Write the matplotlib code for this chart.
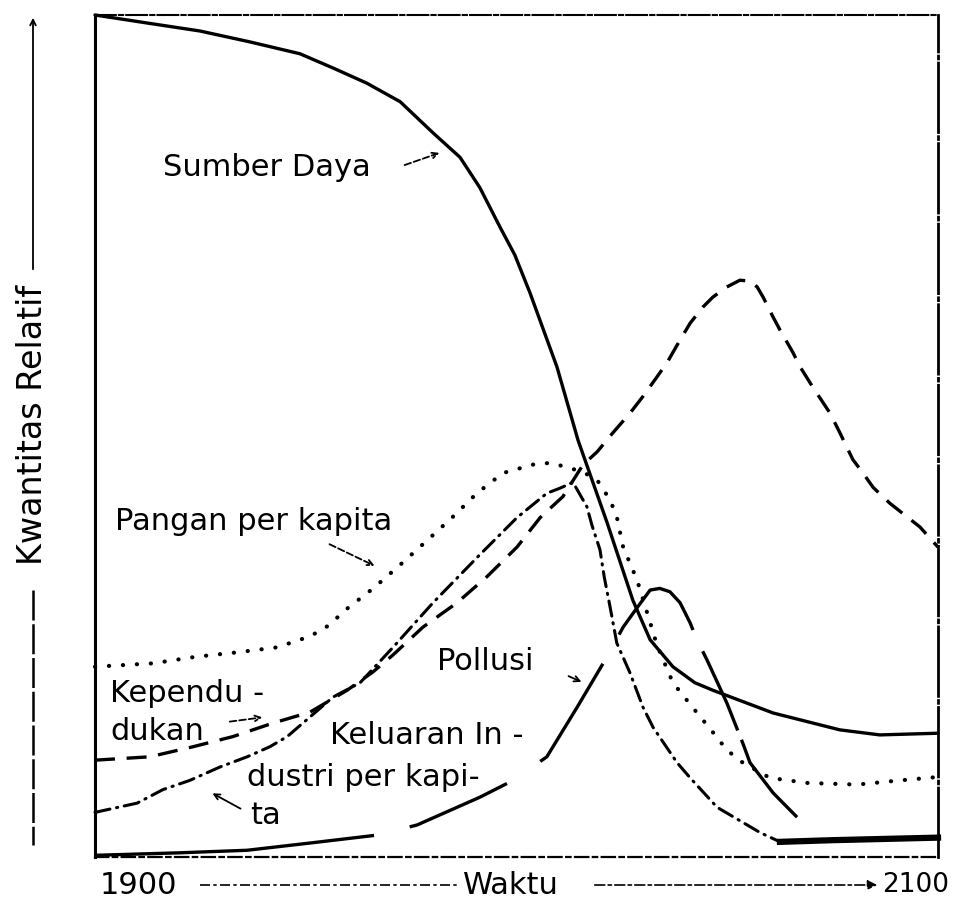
import matplotlib
matplotlib.use("Agg")
import matplotlib.pyplot as plt

W, H = 954, 914

# values: x in years (1900 -> 2100), y as relative quantity (0 -> 1)
res_year = [1900, 1913.0, 1924.9, 1936.8, 1948.6, 1956.5, 1964.5, 1972.4, 1980.2, 1986.6,
            1991.3, 1996.1, 1999.6, 2003.2, 2009.6, 2014.6, 2021.5, 2027.6, 2031.7, 2037.1,
            2042.3, 2046.6, 2060.9, 2076.7, 2086.2, 2100]
res_val = [1.000, 0.990, 0.981, 0.968, 0.954, 0.937, 0.919, 0.897, 0.860, 0.831,
           0.795, 0.748, 0.715, 0.670, 0.582, 0.495, 0.397, 0.305, 0.258, 0.226,
           0.207, 0.198, 0.171, 0.151, 0.145, 0.147]

pop_year = [1900, 1913.0, 1923.3, 1932.7, 1942.2, 1951.0, 1959.8, 1966.0, 1970.7, 1977.8,
            1985.9, 1993.0, 2000.1, 2005.6, 2011.0, 2015.8, 2019.1, 2022.9, 2026.9, 2030.0,
            2033.3, 2035.7, 2038.8, 2041.2, 2044.2, 2046.6, 2049.9, 2053.0, 2055.4, 2057.1,
            2058.5, 2060.9, 2062.5, 2065.6, 2067.3, 2070.3, 2074.4, 2076.7, 2079.8, 2082.2,
            2084.6, 2088.6, 2095.7, 2100]
pop_val = [0.115, 0.119, 0.131, 0.143, 0.159, 0.172, 0.198, 0.220, 0.240, 0.273,
           0.302, 0.333, 0.368, 0.403, 0.428, 0.466, 0.481, 0.504, 0.527, 0.547,
           0.570, 0.587, 0.614, 0.634, 0.653, 0.665, 0.677, 0.685, 0.684, 0.677,
           0.665, 0.641, 0.626, 0.599, 0.582, 0.558, 0.527, 0.504, 0.472, 0.456,
           0.439, 0.420, 0.392, 0.368]

ind_year = [1900, 1910.0, 1916.1, 1922.5, 1929.7, 1936.1, 1941.5, 1945.6, 1956.5, 1962.9,
            1970.7, 1980.2, 1991.3, 2000.1, 2007.2, 2010.3, 2013.4, 2016.7, 2017.9, 2019.8,
            2020.8, 2022.2, 2023.8, 2026.9, 2030.0, 2032.4, 2038.1, 2041.2, 2047.6, 2057.8,
            2062.5, 2075.1, 2100]
ind_val = [0.053, 0.064, 0.080, 0.091, 0.107, 0.119, 0.131, 0.143, 0.190, 0.207,
           0.249, 0.302, 0.359, 0.403, 0.432, 0.438, 0.445, 0.416, 0.394, 0.365,
           0.333, 0.297, 0.254, 0.219, 0.178, 0.154, 0.112, 0.094, 0.059, 0.029,
           0.018, 0.020, 0.023]

food_year = [1900, 1913.8, 1924.2, 1933.7, 1943.2, 1951.0, 1955.8, 1958.8, 1966.0, 1972.4,
             1978.8, 1984.9, 1990.6, 1996.8, 2003.9, 2007.9, 2012.0, 2015.8, 2019.1, 2022.2,
             2023.8, 2025.3, 2026.9, 2028.6, 2031.0, 2033.3, 2037.1, 2041.9, 2047.1, 2049.9,
             2053.7, 2060.1, 2068.9, 2080.8, 2091.0, 2100]
food_val = [0.226, 0.230, 0.238, 0.243, 0.249, 0.262, 0.276, 0.291, 0.319, 0.347,
            0.376, 0.404, 0.432, 0.456, 0.466, 0.468, 0.463, 0.457, 0.448, 0.424,
            0.404, 0.368, 0.349, 0.329, 0.290, 0.252, 0.207, 0.177, 0.145, 0.127,
            0.112, 0.094, 0.088, 0.086, 0.091, 0.095]

pol_year = [1900, 1920.2, 1936.1, 1951.7, 1966.9, 1976.4, 1991.3, 1999.2, 2007.2, 2014.4,
            2021.5, 2025.3, 2028.6, 2031.7, 2034.0, 2036.4, 2038.8, 2041.2, 2042.8, 2045.2,
            2049.9, 2053.7, 2055.4, 2060.9, 2068.0]
pol_val = [0.002, 0.005, 0.008, 0.017, 0.026, 0.038, 0.071, 0.091, 0.119, 0.178,
           0.238, 0.273, 0.296, 0.317, 0.319, 0.315, 0.302, 0.278, 0.258, 0.234,
           0.183, 0.135, 0.112, 0.076, 0.040]


def fpx(x, y):
    # scan pixel position -> figure fraction
    return x / W, 1 - y / H


fig = plt.figure(figsize=(W / 100, H / 100), dpi=100)
ax = fig.add_axes([95 / W, 1 - 857 / H, 843 / W, 842 / H])
ax.set_xlim(1900, 2100)
ax.set_ylim(0, 1)
ax.set_xticks([])
ax.set_yticks([])

ax.plot(res_year, res_val, color="black", lw=2.4, solid_capstyle="round",
        solid_joinstyle="round", clip_on=False)
ax.plot(pop_year, pop_val, color="black", lw=2.4, linestyle=(0, (6, 3.5)), clip_on=False)
ax.plot(ind_year, ind_val, color="black", lw=2.2, linestyle=(0, (5, 2.2, 0.4, 2.2)),
        dash_capstyle="round", clip_on=False)
ax.plot(ind_year[-3:], ind_val[-3:], color="black", lw=4.5, clip_on=False)
ax.plot(food_year, food_val, color="black", lw=3, linestyle=(0, (0.05, 3.3)),
        dash_capstyle="round", clip_on=False)
# long irregular dashes, as hand drawn in the scan
ax.plot(pol_year, pol_val, color="black", lw=2.4,
        linestyle=(0, (84, 11, 32, 12, 35, 10, 36, 7, 26, 3, 29, 50)), clip_on=False)

ax.spines["left"].set_linewidth(2.2)
ax.spines["top"].set_linewidth(1.5)
ax.spines["top"].set_linestyle((0, (10, 1.5, 2, 1.5)))
ax.spines["right"].set_linewidth(2.0)
ax.spines["right"].set_linestyle((0, (25, 1.5, 1, 1.5)))
ax.spines["bottom"].set_linewidth(1.6)
ax.spines["bottom"].set_linestyle((0, (6, 2, 2, 2)))

fs = 22


def label(x, y, s, size=fs):
    fig.text(*fpx(x, y), s, fontsize=size, ha="left", va="center")


def pointer(x0, y0, x1, y1, dashed=False):
    fig.add_artist(plt.Annotation(
        "", xy=fpx(x1, y1), xytext=fpx(x0, y0),
        xycoords="figure fraction", textcoords="figure fraction",
        arrowprops=dict(arrowstyle="->", color="black", lw=1.3,
                        linestyle="--" if dashed else "-")))


label(163, 168, "Sumber Daya")
pointer(402, 166, 442, 152, dashed=True)
label(115, 521, "Pangan per kapita")
pointer(327, 543, 377, 567, dashed=True)
label(110, 693, "Kependu -")
label(110, 731, "dukan")
pointer(227, 722, 265, 717, dashed=True)
label(437, 662, "Pollusi")
pointer(566, 675, 584, 683)
label(330, 736, "Keluaran In -")
label(247, 777, "dustri per kapi-")
label(250, 816, "ta")
pointer(243, 810, 210, 792)

# y axis label with its arrow
fig.text(*fpx(33, 425), "Kwantitas Relatif", fontsize=24, rotation=90, ha="center", va="center")
fig.add_artist(plt.Line2D([33 / W, 33 / W], [1 - 590 / H, 1 - 845 / H], color="black", lw=1.8,
                          linestyle=(0, (12, 1.5))))
pointer(33, 272, 33, 15)

# x axis label with its arrow
label(100, 885, "1900")
fig.add_artist(plt.Line2D([200 / W, 458 / W], [1 - 885 / H] * 2, color="black", lw=1.2,
                          linestyle=(0, (6, 2, 2, 2))))
label(463, 885, "Waktu")
fig.add_artist(plt.Annotation(
    "", xy=fpx(880, 885), xytext=fpx(592, 885),
    xycoords="figure fraction", textcoords="figure fraction",
    arrowprops=dict(arrowstyle="-|>", color="black", lw=1.2, linestyle=(0, (6, 2, 2, 2)),
                    mutation_scale=14)))
label(882, 885, "2100", size=19)

fig.savefig("out.png", dpi=100)
